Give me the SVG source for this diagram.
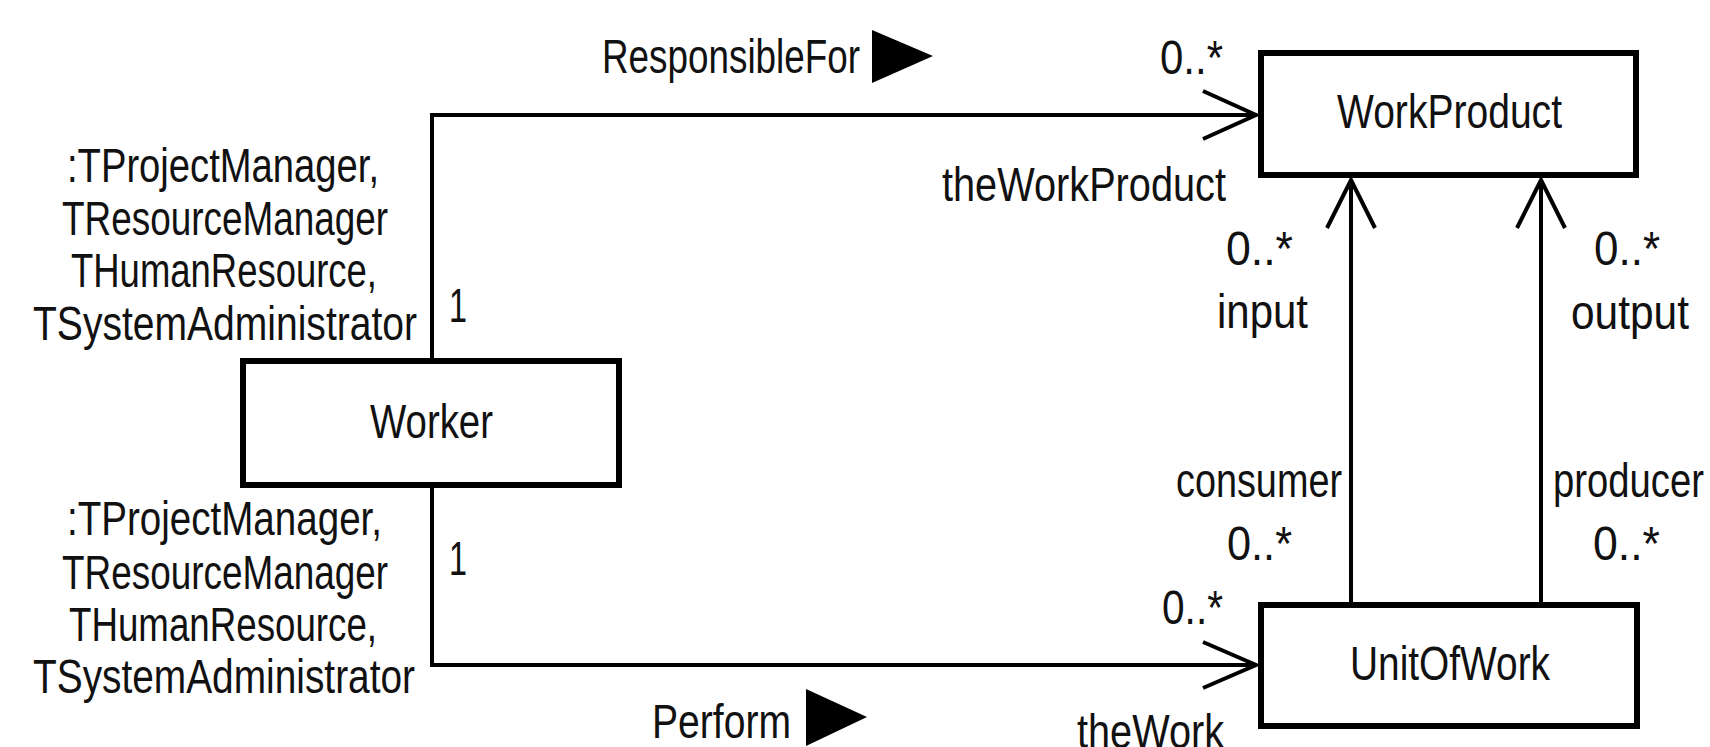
<svg xmlns="http://www.w3.org/2000/svg" width="1710" height="747" viewBox="0 0 1710 747">
<style>
.box{fill:#fff;stroke:#000;stroke-width:6}
.ln{fill:none;stroke:#000;stroke-width:4}
.t{font-family:"Liberation Sans",Arial,sans-serif;font-size:49px;fill:#111}
.tri{fill:#000}
</style>
<rect width="1710" height="747" fill="#fff"/>
<g id="connectors">
  <path class="ln" d="M432,358 V115 H1256"/>
  <path class="ln" d="M1203,91 L1256,115 L1203,139"/>
  <path class="ln" d="M432,488 V665 H1256"/>
  <path class="ln" d="M1203,642 L1256,665 L1203,688"/>
  <path class="ln" d="M1351,602 V180"/>
  <path class="ln" d="M1327,228 L1351,180 L1375,228"/>
  <path class="ln" d="M1541,602 V180"/>
  <path class="ln" d="M1517,228 L1541,180 L1565,228"/>
  <polygon class="tri" points="872,30 872,83 933,56"/>
  <polygon class="tri" points="806,689 806,746 867,717"/>
  <text class="t" x="602" y="73" textLength="258" lengthAdjust="spacingAndGlyphs">ResponsibleFor</text>
  <text class="t" x="652" y="738" textLength="139" lengthAdjust="spacingAndGlyphs">Perform</text>
  <text class="t" x="1160" y="74" textLength="63" lengthAdjust="spacingAndGlyphs">0..*</text>
  <text class="t" x="942" y="201" textLength="284" lengthAdjust="spacingAndGlyphs">theWorkProduct</text>
  <text class="t" x="1226" y="265" textLength="67" lengthAdjust="spacingAndGlyphs">0..*</text>
  <text class="t" x="1217" y="328" textLength="91" lengthAdjust="spacingAndGlyphs">input</text>
  <text class="t" x="1594" y="265" textLength="66" lengthAdjust="spacingAndGlyphs">0..*</text>
  <text class="t" x="1571" y="329" textLength="118" lengthAdjust="spacingAndGlyphs">output</text>
  <text class="t" x="1176" y="497" textLength="166" lengthAdjust="spacingAndGlyphs">consumer</text>
  <text class="t" x="1227" y="560" textLength="65" lengthAdjust="spacingAndGlyphs">0..*</text>
  <text class="t" x="1553" y="497" textLength="151" lengthAdjust="spacingAndGlyphs">producer</text>
  <text class="t" x="1593" y="560" textLength="67" lengthAdjust="spacingAndGlyphs">0..*</text>
  <text class="t" x="1162" y="624" textLength="61" lengthAdjust="spacingAndGlyphs">0..*</text>
  <text class="t" x="1077" y="748" textLength="147" lengthAdjust="spacingAndGlyphs">theWork</text>
  <text class="t" x="449" y="322" textLength="18" lengthAdjust="spacingAndGlyphs">1</text>
  <text class="t" x="449" y="575" textLength="18" lengthAdjust="spacingAndGlyphs">1</text>
  <text class="t" x="67" y="182" textLength="312" lengthAdjust="spacingAndGlyphs">:TProjectManager,</text>
  <text class="t" x="62" y="235" textLength="326" lengthAdjust="spacingAndGlyphs">TResourceManager</text>
  <text class="t" x="71" y="287" textLength="306" lengthAdjust="spacingAndGlyphs">THumanResource,</text>
  <text class="t" x="33" y="340" textLength="384" lengthAdjust="spacingAndGlyphs">TSystemAdministrator</text>
  <text class="t" x="67" y="535" textLength="315" lengthAdjust="spacingAndGlyphs">:TProjectManager,</text>
  <text class="t" x="62" y="589" textLength="326" lengthAdjust="spacingAndGlyphs">TResourceManager</text>
  <text class="t" x="69" y="641" textLength="308" lengthAdjust="spacingAndGlyphs">THumanResource,</text>
  <text class="t" x="33" y="693" textLength="382" lengthAdjust="spacingAndGlyphs">TSystemAdministrator</text>
</g>
<g id="WorkProduct">
  <rect class="box" x="1261" y="53" width="375" height="122"/>
  <text class="t" x="1337" y="128" textLength="225" lengthAdjust="spacingAndGlyphs">WorkProduct</text>
</g>
<g id="UnitOfWork">
  <rect class="box" x="1261" y="605" width="376" height="121"/>
  <text class="t" x="1350" y="680" textLength="200" lengthAdjust="spacingAndGlyphs">UnitOfWork</text>
</g>
<g id="Worker">
  <rect class="box" x="243" y="361" width="376" height="124"/>
  <text class="t" x="370" y="438" textLength="123" lengthAdjust="spacingAndGlyphs">Worker</text>
</g>
</svg>
